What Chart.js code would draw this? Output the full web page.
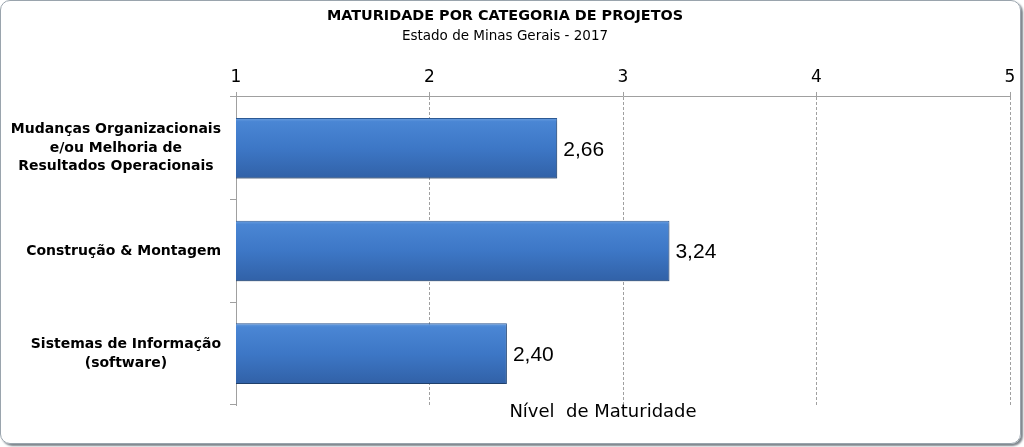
<!DOCTYPE html>
<html>
<head>
<meta charset="utf-8">
<script src="https://cdn.jsdelivr.net/npm/chart.js@4/dist/chart.umd.min.js"></script>
<style>
  html, body { margin: 0; padding: 0; background: #ffffff; }
  #wrap { position: relative; width: 1024px; height: 447px; overflow: hidden; }
  #c { position: absolute; left: 0; top: 0; }
  #frame { position: absolute; left: 0; top: 0; width: 1019px; height: 442px;
           border: 1px solid #9aa4ad; border-radius: 10px;
           box-shadow: 2px 2px 2px #7d858c; pointer-events: none; }
</style>
</head>
<body>
<div id="wrap">
  <canvas id="c" width="1024" height="447"></canvas>
  <div id="frame"></div>
</div>
<script>
const chartTitle = 'MATURIDADE POR CATEGORIA DE PROJETOS';
const chartSubtitle = 'Estado de Minas Gerais - 2017';
const axisTitle = 'Nível  de Maturidade';
const categories = [
  ['Mudanças Organizacionais', 'e/ou Melhoria de', 'Resultados Operacionais'],
  ['Construção & Montagem'],
  ['Sistemas de Informação', '(software)']
];
const values = [2.66, 3.24, 2.40];
const xTicks = [1, 2, 3, 4, 5];

const fmt = v => v.toFixed(2).replace('.', ',');

const barFill = (c) => {
  const chart = c.chart;
  const ca = chart.chartArea;
  if (!ca || c.type !== 'data' || !chart.scales.y) return '#3e7acb';
  const y = chart.scales.y.getPixelForValue(c.dataIndex);
  const cw = (ca.bottom - ca.top) / categories.length;
  const half = cw * 0.59 / 2;
  const g = chart.ctx.createLinearGradient(0, y - half, 0, y + half);
  g.addColorStop(0, '#6a9fe0');
  g.addColorStop(0.06, '#4a86d4');
  g.addColorStop(0.5, '#3d77c6');
  g.addColorStop(1, '#3161a7');
  return g;
};

const shadowPlugin = {
  id: 'barShadow',
  beforeDatasetDraw(chart) {
    const ctx = chart.ctx;
    ctx.save();
    ctx.shadowColor = 'rgba(0,0,0,0.35)';
    ctx.shadowBlur = 3;
    ctx.shadowOffsetX = 1;
    ctx.shadowOffsetY = 2;
  },
  afterDatasetDraw(chart) { chart.ctx.restore(); }
};

const labelsPlugin = {
  id: 'customLabels',
  afterDraw(chart) {
    const ctx = chart.ctx;
    const ys = chart.scales.y;
    const ca = chart.chartArea;
    ctx.save();
    ctx.fillStyle = '#000';
    // category labels: right-aligned block, lines centred within block
    ctx.font = 'bold 14px "DejaVu Sans"';
    ctx.textBaseline = 'middle';
    ctx.textAlign = 'center';
    const lh = 18.5;
    const rightEdge = ys.right - 15;
    categories.forEach((lines, i) => {
      const cy = ys.getPixelForValue(i);
      const w = Math.max(...lines.map(l => ctx.measureText(l).width));
      const cx = rightEdge - w / 2;
      const y0 = cy - (lines.length - 1) * lh / 2;
      lines.forEach((l, k) => ctx.fillText(l, cx, y0 + k * lh));
    });
    // value labels
    const meta = chart.getDatasetMeta(0);
    ctx.font = '21px "Liberation Sans"';
    ctx.textAlign = 'left';
    meta.data.forEach((bar, i) => {
      ctx.fillText(fmt(values[i]), bar.x + 6, bar.y + 1.5);
    });
    // axis title below the plot
    ctx.font = '18px "DejaVu Sans"';
    ctx.textAlign = 'center';
    ctx.fillText(axisTitle, (ca.left + ca.right) / 2 - 20, 412);
    ctx.restore();
  }
};

new Chart(document.getElementById('c'), {
  type: 'bar',
  data: {
    labels: categories,
    datasets: [{
      data: values,
      backgroundColor: barFill,
      borderColor: '#2d5a96',
      borderWidth: 1,
      borderSkipped: 'left',
      categoryPercentage: 1,
      barPercentage: 0.59
    }]
  },
  options: {
    indexAxis: 'y',
    responsive: false,
    animation: false,
    layout: { padding: { left: 0, right: 14, top: 0, bottom: 0 } },
    plugins: {
      legend: { display: false },
      tooltip: { enabled: false },
      title: {
        display: true, text: chartTitle, color: '#000',
        font: { family: 'DejaVu Sans', size: 14.4, weight: 'bold' },
        padding: { top: 7.4, bottom: 0 }
      },
      subtitle: {
        display: true, text: chartSubtitle, color: '#000',
        font: { family: 'DejaVu Sans', size: 13.5 },
        padding: { top: 4.2, bottom: 0 }
      }
    },
    scales: {
      x: {
        position: 'top',
        min: 1, max: 5,
        afterBuildTicks: (s) => { s.ticks = xTicks.map(v => ({ value: v })); },
        afterFit: (s) => { s.height = 51.9; },
        ticks: {
          color: '#000', padding: 4,
          font: { family: 'DejaVu Sans', size: 17 }
        },
        grid: {
          color: '#a0a0a0', lineWidth: 1, tickLength: 5,
          drawTicks: true
        },
        border: { display: true, color: '#a0a0a0', dash: [3, 2] }
      },
      x2: {
        position: 'bottom',
        axis: 'x',
        min: 1, max: 5,
        afterFit: (s) => { s.height = 42; },
        ticks: { display: false },
        grid: { display: false, drawTicks: false },
        border: { display: false }
      },
      y: {
        afterFit: (s) => { s.width = 236; },
        ticks: { display: false },
        grid: {
          offset: true, drawOnChartArea: false, drawTicks: true,
          tickLength: 6, color: '#a0a0a0'
        },
        border: { display: true, color: '#a0a0a0' }
      }
    }
  },
  plugins: [shadowPlugin, labelsPlugin]
});
</script>
</body>
</html>
